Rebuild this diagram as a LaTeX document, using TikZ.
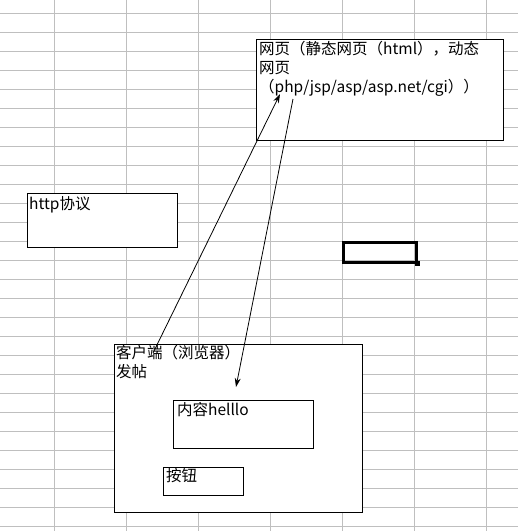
\documentclass[tikz,border=0pt]{standalone}
\usepackage{fontspec}
\setmainfont{Noto Sans CJK SC}
\usetikzlibrary{arrows.meta, positioning}

\begin{document}
\begin{tikzpicture}[x=1pt, y=-1pt, every text node part/.style={align=left}]

\tikzstyle{grid}=[draw, black!25, line width=0.9pt]
\tikzstyle{box}=[draw, fill=white, line width=1.1pt, anchor=north west, inner sep=0pt]
\tikzstyle{txt}=[anchor=north west, inner sep=0pt, font=\fontsize{15.5}{19}\selectfont]
\tikzstyle{arr}=[draw, line width=0.8pt, -{Stealth[length=9pt, width=6pt]}]

\useasboundingbox [fill=white] (0,0) rectangle (518,531);

% sheet grid
\foreach \gx in {54,126,...,486}
  \path [grid] (\gx,0) -- (\gx,531);
\foreach \gy in {13,32,...,526}
  \path [grid] (0,\gy) -- (518,\gy);

\node (web)     [box, minimum width=247, minimum height=101] at (256,39) {};
\node (http)    [box, minimum width=150, minimum height=54]  at (27,193)  {};
\node (client)  [box, minimum width=248, minimum height=168] at (114,344) {};
\node (content) [box, minimum width=140, minimum height=48]  at (173,400) {};
\node (button)  [box, minimum width=80,  minimum height=28]  at (163,467) {};
\node (cell)    [box, fill=none, line width=2.6pt, minimum width=73, minimum height=20] at (342,241) {};
\fill [black] (cell.south east) ++(-2.5,-2.5) rectangle ++(5,5);

\node (webtxt)     [txt, below right=2pt and 3pt of web.north west]
  {网页（静态网页（html），动态\\网页\\（php/jsp/asp/asp.net/cgi））};
\node (httptxt)    [txt, below right=3pt and 2pt of http.north west]    {http协议};
\node (clienttxt)  [txt, below right=1pt and 2pt of client.north west]  {客户端（浏览器）\\发帖};
\node (contenttxt) [txt, below right=2pt and 4pt of content.north west] {内容helllo};
\node (buttontxt)  [txt, below right=1pt and 3pt of button.north west]  {按钮};

\coordinate (posttail)  at (153,353);
\coordinate (posthead)  at (280,94);
\coordinate (replytail) at (293,99);
\coordinate (replyhead) at (236,387);
\path [arr] (posttail)  -- (posthead);
\path [arr] (replytail) -- (replyhead);
\end{tikzpicture}
\end{document}
